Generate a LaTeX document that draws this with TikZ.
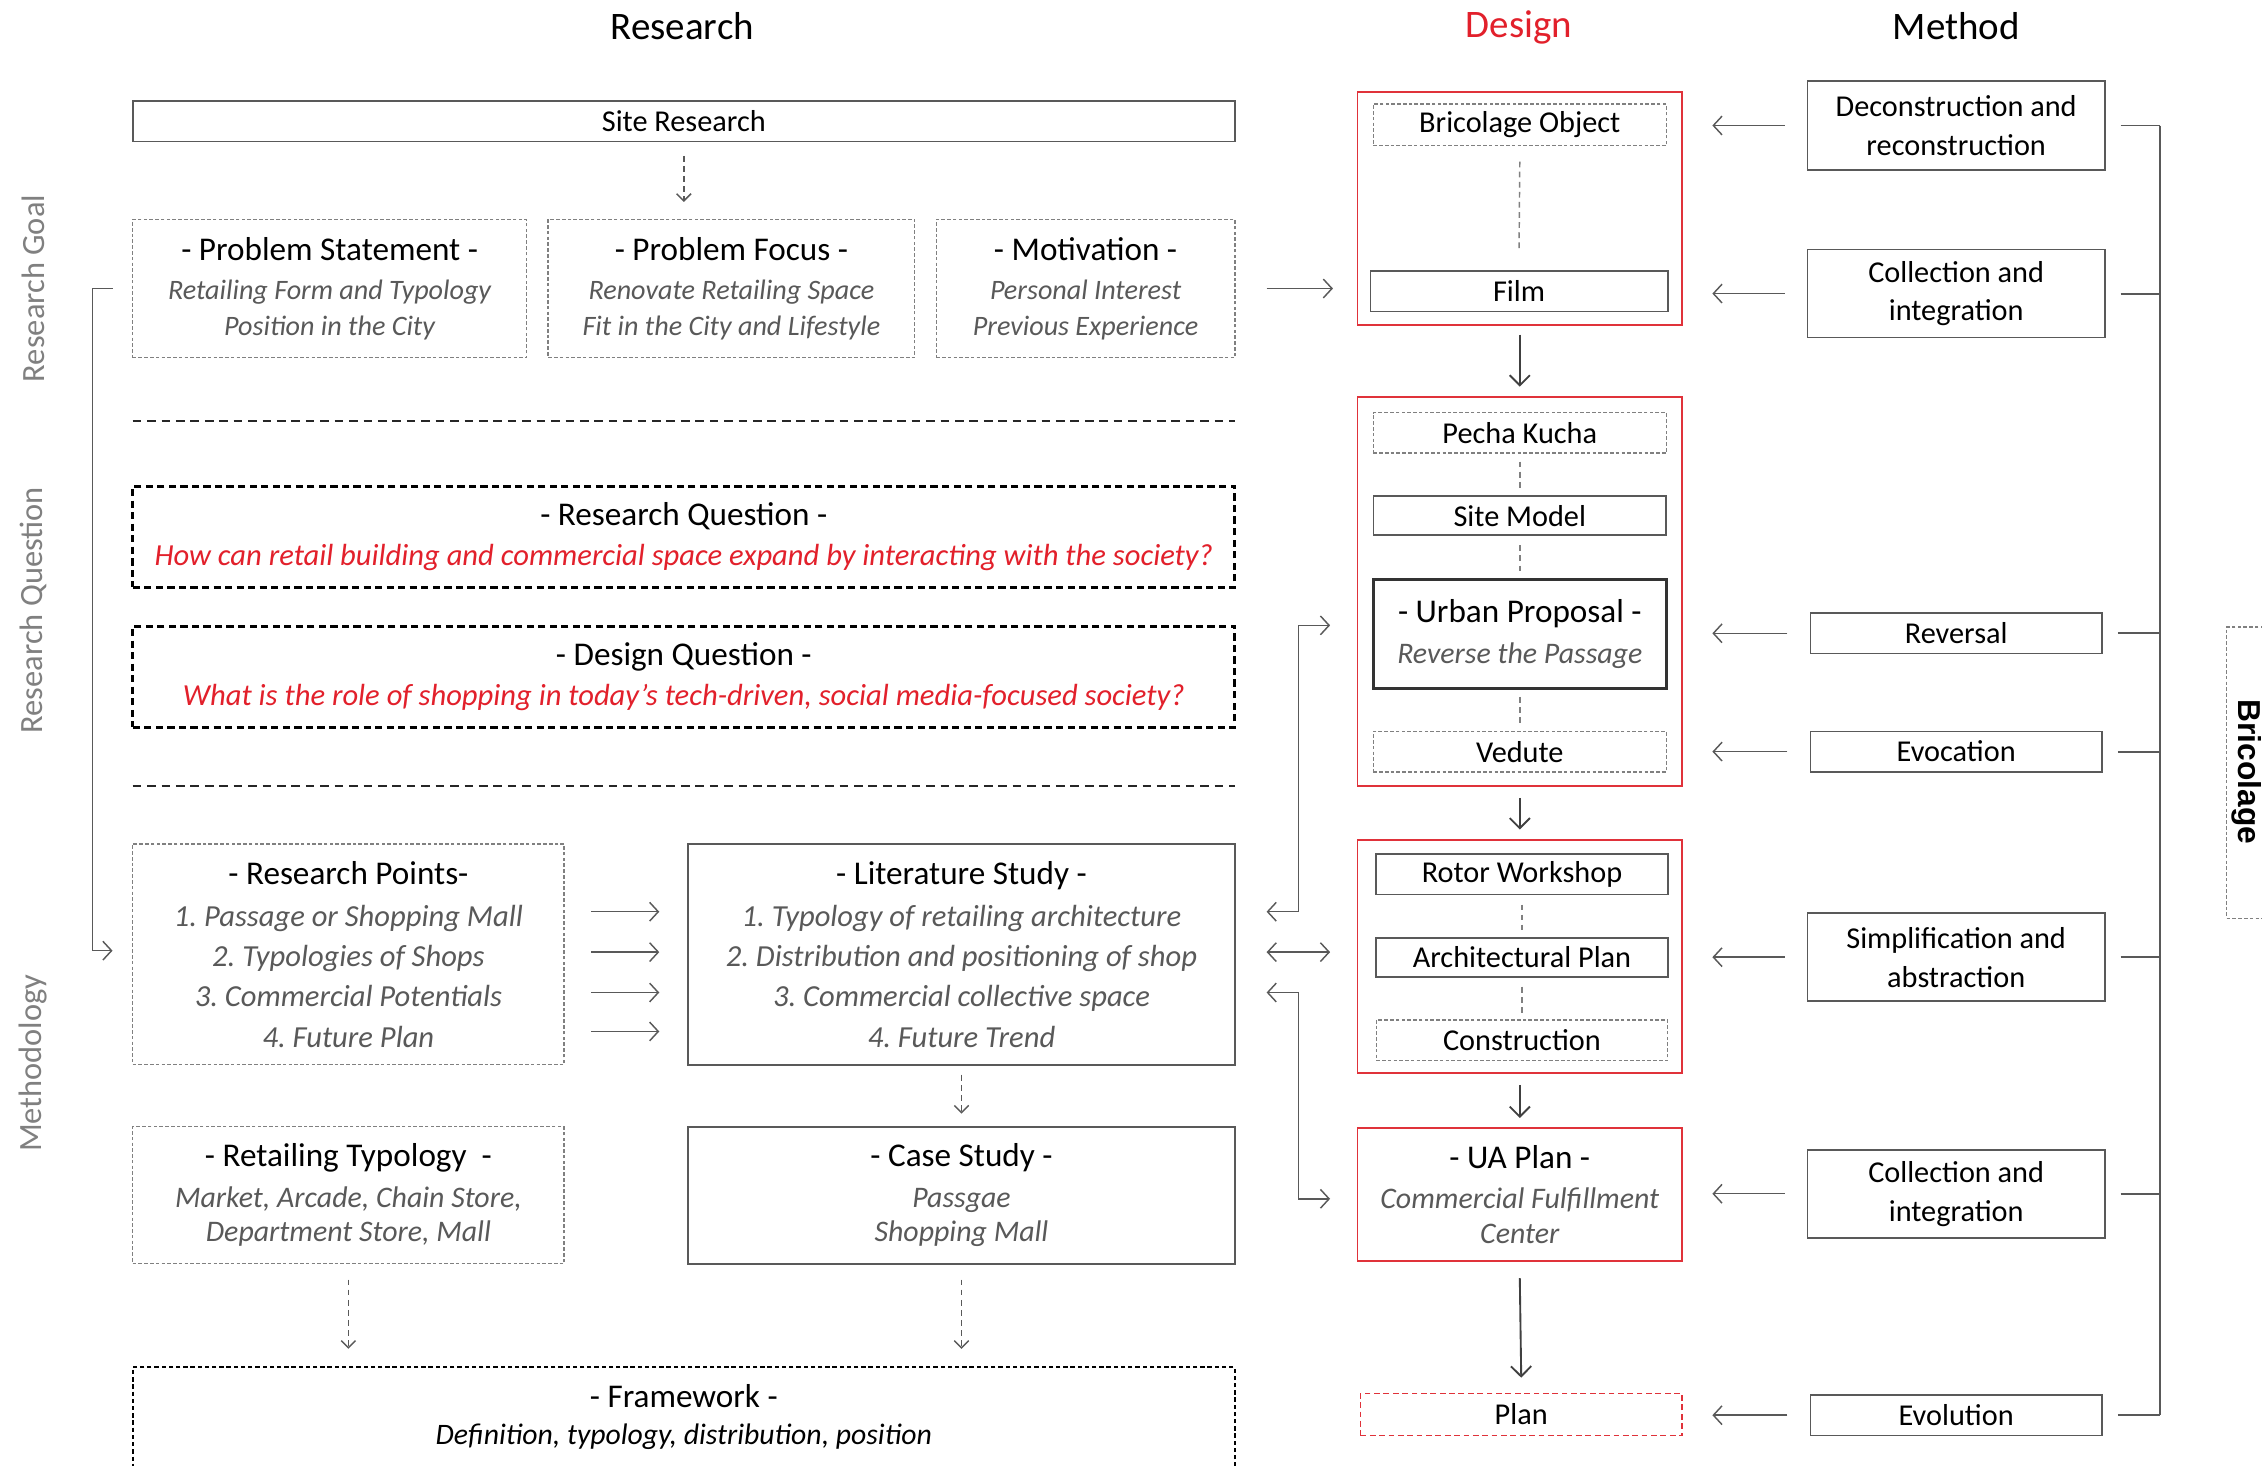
\documentclass[tikz,border=0pt]{standalone}
\usepackage{fontspec}
\setmainfont{Carlito}
\newfontfamily\brfont{Liberation Sans}
\usetikzlibrary{arrows.meta,calc}
\definecolor{dred}{HTML}{E2202B}
\definecolor{rline}{HTML}{E0323A}
\definecolor{lgray}{HTML}{595959}
\definecolor{tgray}{HTML}{595959}
\definecolor{sgray}{HTML}{808080}
\newcommand\fTitle{\fontsize{27}{31}\selectfont}
\newcommand\fHead{\fontsize{23}{27}\selectfont}
\newcommand\fBody{\fontsize{21}{27}\selectfont}
\newcommand\lsp[1]{\fontsize{21}{#1}\selectfont}
\newcommand\fItal{\fontsize{19.5}{25}\selectfont\itshape\color{tgray}}
\newcommand\fItalL{\fontsize{20.7}{25}\selectfont\itshape\color{tgray}}
\newcommand\fItalX{\fontsize{21.2}{25}\selectfont\itshape\color{tgray}}
\newcommand\fRedq{\fontsize{21.2}{25}\selectfont\itshape\color{dred}}
\newcommand\bnode[7]{%
  \pgfmathsetmacro\bxc{(#3+#5)/2}\pgfmathsetmacro\byc{(#4+#6)/2}%
  \pgfmathsetmacro\bw{#5-#3}\pgfmathsetmacro\bh{#6-#4}%
  \node[#1, minimum width=\bw pt, minimum height=\bh pt, inner sep=0pt, outer sep=0pt, align=center] (#2) at (\bxc,\byc) {#7};}
\tikzset{
  sbox/.style={draw=lgray, line width=1.2pt, font=\fBody},
  dbox/.style={draw=sgray, line width=1pt, dash pattern=on 2.5pt off 1.5pt, font=\fBody},
  qbox/.style={draw=black, line width=2pt, dash pattern=on 5pt off 3pt, font=\fBody},
  rbox/.style={draw=rline, line width=1.3pt, font=\fBody},
  rdbox/.style={draw=rline, line width=1.2pt, dash pattern=on 4pt off 2.5pt, font=\fBody},
  ubox/.style={draw=black!80, line width=2pt, font=\fBody},
  fwbox/.style={draw=black, line width=1.3pt, dash pattern=on 3pt off 2pt},
  arr/.style={draw=lgray, line width=1pt, -{Straight Barb[length=6pt,width=13pt]}},
  darr/.style={draw=lgray, line width=1pt, dash pattern=on 4pt off 3pt, -{Straight Barb[length=5pt,width=10pt]}},
  barr/.style={draw=black!75, line width=1.3pt, -{Straight Barb[length=7pt,width=14pt]}},
  vdash/.style={draw=sgray, line width=1pt, dash pattern=on 4pt off 3pt},
  sepline/.style={draw=black!85, line width=1.3pt, dash pattern=on 6pt off 4pt},
  brk/.style={draw=lgray, line width=1.3pt},
  side/.style={text=sgray, font=\fontsize{22.5}{26}\selectfont, rotate=90}
}
\begin{document}
\begin{tikzpicture}[x=1pt,y=-1pt]
\fill[white] (0,0) rectangle (1568,1016);
\useasboundingbox (0,0) rectangle (1568,1016);
\clip (0,0) rectangle (1568,1016);

% column titles
\node[font=\fTitle] (tres) at (473,18) {Research};
\node[font=\fTitle, text=dred] (tdes) at (1053,19) {Design};
\node[font=\fTitle] (tmet) at (1356,18) {Method};

% side labels
\node[side] (lg) at (23,200) {Research Goal};
\node[side] (lq) at (23,423) {Research Question};
\node[side] (lm) at (23,737) {Methodology};

% research column
\bnode{sbox}{site}{92}{70}{856}{98}{Site Research}
\bnode{dbox,font=\lsp{25}}{ps}{92}{152}{365}{248}{{\fHead - Problem Statement -}\\[2pt]{\fItal Retailing Form and Typology}\\{\fItal Position in the City}}
\bnode{dbox,font=\lsp{25}}{pf}{380}{152}{634}{248}{{\fHead - Problem Focus -}\\[2pt]{\fItal Renovate Retailing Space}\\{\fItal Fit in the City and Lifestyle}}
\bnode{dbox,font=\lsp{25}}{mo}{649}{152}{856}{248}{{\fHead - Motivation -}\\[2pt]{\fItal Personal Interest}\\{\fItal Previous Experience}}
\draw[darr] ($(site.south)+(0,10)$) -- ($(site.south |- ps.north)+(0,-12)$);

\coordinate (s1a) at (92,292); \coordinate (s1b) at (856,292);
\draw[sepline] (s1a) -- (s1b);
\bnode{qbox,font=\lsp{28}}{rq}{92}{337}{856}{407}{{\fHead - Research Question -}\\{\fRedq How can retail building and commercial space expand by interacting with the society?}}
\bnode{qbox,font=\lsp{28}}{dq}{92}{434}{856}{504}{{\fHead - Design Question -}\\{\fRedq What is the role of shopping in today’s tech-driven, social media-focused society?}}
\coordinate (s2a) at (92,545); \coordinate (s2b) at (856,545);
\draw[sepline] (s2a) -- (s2b);

\bnode{dbox,font=\lsp{28}}{rp}{92}{585}{391}{738}{{\fHead - Research Points-}\\[1pt]{\fItalX 1.\ Passage or Shopping Mall}\\{\fItalX 2.\ Typologies of Shops}\\{\fItalX 3.\ Commercial Potentials}\\{\fItalX 4.\ Future Plan}}
\bnode{sbox,font=\lsp{28}}{ls}{477}{585}{856}{738}{{\fHead - Literature Study -}\\[1pt]{\fItalX 1.\ Typology of retailing architecture}\\{\fItalX 2.\ Distribution and positioning of shop}\\{\fItalX 3.\ Commercial collective space}\\{\fItalX 4.\ Future Trend}}
\foreach \dy in {-29.5,-1.5,26.5,53.5}
  \draw[arr] ($(rp.east)+(19,\dy)$) -- ($(ls.west)+(-20,\dy)$);
\bnode{dbox,font=\lsp{24}}{rt}{92}{781}{391}{876}{{\fHead - Retailing Typology \ -}\\[4pt]{\fItalL Market, Arcade, Chain Store,}\\{\fItalL Department Store, Mall}}
\bnode{sbox,font=\lsp{24}}{cs}{477}{781}{856}{876}{{\fHead - Case Study -}\\[4pt]{\fItalL Passgae}\\{\fItalL Shopping Mall}}
\draw[darr] ($(ls.south)+(0,7)$) -- ($(cs.north)+(0,-9)$);
\node[fwbox, anchor=north, minimum width=764pt, minimum height=110pt] (fw) at (474,947) {};
\node[font=\fHead] (fwt) at (474,968) {- Framework -};
\node[font=\fontsize{20.6}{25}\selectfont\itshape] (fws) at (474,996) {Definition, typology, distribution, position};
\draw[darr] ($(rt.south)+(0,11)$) -- ($(rt.south |- fw.north)+(0,-12)$);
\draw[darr] ($(cs.south)+(0,11)$) -- ($(cs.south |- fw.north)+(0,-12)$);

% left bracket
\draw[arr] ($(ps.west)+(-14,0)$) -- ++(-14,0) |- ($(rp.west)+(-14,-2.5)$);

% design column
\bnode{rbox}{d1}{941}{64}{1166}{225}{}
\bnode{dbox}{bo}{952}{72}{1155}{101}{Bricolage Object}
\bnode{sbox}{film}{950}{188}{1156}{216}{Film}
\draw[vdash] ($(bo.south)+(0,11)$) -- ($(film.north)+(0,-16)$);
\draw[arr] ($(mo.east)+(22,0)$) -- ($(mo.east -| d1.west)+(-17,0)$);

\bnode{rbox}{d2}{941}{275}{1166}{545}{}
\bnode{dbox}{pk}{952}{286}{1155}{314}{Pecha Kucha}
\bnode{sbox}{sm}{952}{344}{1155}{371}{Site Model}
\bnode{ubox,font=\lsp{28}}{up}{952}{402}{1155}{477}{{\fHead - Urban Proposal -}\\{\fItalL Reverse the Passage}}
\bnode{dbox}{ve}{952}{507}{1155}{535}{Vedute}
\draw[vdash] ($(pk.south)+(0,6)$) -- ($(sm.north)+(0,-6)$);
\draw[vdash] ($(sm.south)+(0,7)$) -- ($(up.north)+(0,-5)$);
\draw[vdash] ($(up.south)+(0,6)$) -- ($(ve.north)+(0,-4)$);

\bnode{rbox}{d3}{941}{582}{1166}{744}{}
\bnode{sbox}{rw}{954}{592}{1156}{620}{Rotor Workshop}
\bnode{sbox}{ap}{954}{650}{1156}{677}{Architectural Plan}
\bnode{dbox}{co}{954}{707}{1156}{735}{Construction}
\draw[vdash] ($(rw.south)+(0,7)$) -- ($(ap.north)+(0,-5)$);
\draw[vdash] ($(ap.south)+(0,7)$) -- ($(co.north)+(0,-4)$);

\bnode{rbox,font=\lsp{24}}{ua}{941}{782}{1166}{874}{{\fHead - UA Plan -}\\[4pt]{\fItalL Commercial Fulfillment}\\{\fItalL Center}}
\bnode{rdbox}{plan}{943}{966}{1166}{995}{Plan}

\draw[barr] ($(d1.south)+(0,7)$) -- ($(d2.north)+(0,-7)$);
\draw[barr] ($(d2.south)+(0,8)$) -- ($(d3.north)+(0,-7)$);
\draw[barr] ($(d3.south)+(0,8)$) -- ($(ua.north)+(0,-7)$);
\draw[barr] ($(ua.south)+(0,12)$) -- ($(plan.north)+(0,-11)$);

% literature <-> design connectors
\draw[arr, {Straight Barb[length=6pt,width=13pt]}-{Straight Barb[length=6pt,width=13pt]}]
  ($(ls.east)+(22,-29.5)$) -- ++(22,0) |- ($(up.west -| d2.west)+(-19,-6)$);
\draw[arr, {Straight Barb[length=6pt,width=13pt]}-{Straight Barb[length=6pt,width=13pt]}]
  ($(ls.east)+(22,-1.5)$) -- ($(ls.east -| d3.west)+(-19,-1.5)$);
\draw[arr, {Straight Barb[length=6pt,width=13pt]}-{Straight Barb[length=6pt,width=13pt]}]
  ($(ls.east)+(22,26.5)$) -- ++(22,0) |- ($(ua.west)+(-19,3)$);

% method column
\bnode{sbox}{m1}{1253}{56}{1459}{118}{Deconstruction and\\reconstruction}
\bnode{sbox}{m2}{1253}{173}{1459}{234}{Collection and\\integration}
\bnode{sbox}{m3}{1255}{425}{1457}{453}{Reversal}
\bnode{sbox}{m4}{1255}{507}{1457}{535}{Evocation}
\bnode{sbox}{m5}{1253}{633}{1459}{694}{Simplification and\\abstraction}
\bnode{sbox}{m6}{1253}{797}{1459}{858}{Collection and\\integration}
\bnode{sbox}{m7}{1255}{967}{1457}{995}{Evolution}
\foreach \m in {m1,m2,m3,m4,m5,m6,m7}
  \draw[arr] ($(\m.west)+(-16,0)$) -- ($(\m.west -| d1.east)+(21,0)$);

\coordinate (bt) at (1497,87);
\foreach \m in {m1,m2,m3,m4,m5,m6,m7}
  \draw[brk] ($(\m.east)+(11,0)$) -- (\m.east -| bt);
\draw[brk] (m1.east -| bt) -- (m7.east -| bt);

% bricolage label
\node[draw=sgray, line width=1pt, dash pattern=on 2.5pt off 1.5pt, anchor=north west, minimum width=60pt, minimum height=202pt, inner sep=0pt] (brbox) at (1543,434) {};
\node[rotate=-90, font=\brfont\bfseries\fontsize{22}{26}\selectfont] (brtxt) at (1557,535) {Bricolage};
\end{tikzpicture}
\end{document}
